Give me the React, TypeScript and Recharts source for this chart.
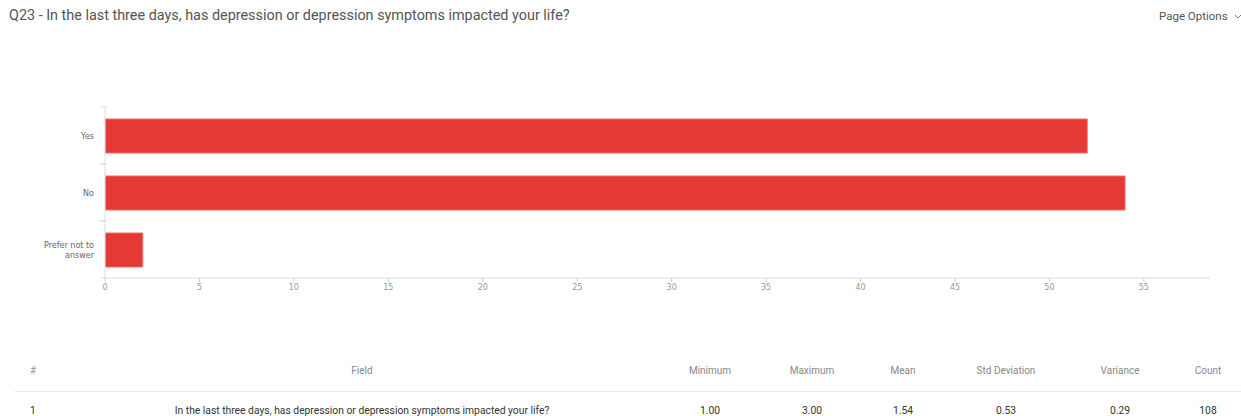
import React from 'react';
import { BarChart, Bar, XAxis, YAxis } from 'recharts';

// Ответы на Q23
const answers = ['Yes', 'No', 'Prefer not to answer'];
const counts = [52, 54, 2];
const xTicks = [0, 5, 10, 15, 20, 25, 30, 35, 40, 45, 50, 55];

// Таблица статистики
const statHeaders = ['Minimum', 'Maximum', 'Mean', 'Std Deviation', 'Variance', 'Count'];
const statValues = ['1.00', '3.00', '1.54', '0.53', '0.29', '108'];
const statCenters = [710, 812, 903, 1006, 1120, 1208];
const fieldText = 'In the last three days, has depression or depression symptoms impacted your life?';

const chartData = answers.map((name, i) => ({ name, count: counts[i] }));

const BAND = 57;

// Подпись категории + засечки на границах полос
const CategoryTick = ({ x, y, payload }: any) => {
  const words = String(payload.value).split(' ');
  const lines = words.length > 2 ? [words.slice(0, 3).join(' '), words.slice(3).join(' ')] : [payload.value];
  const startY = y - ((lines.length - 1) * 10) / 2;
  return (
    <g>
      <line x1={x + 3} x2={x + 10} y1={y - BAND / 2} y2={y - BAND / 2} stroke="#ddd" />
      <line x1={x + 3} x2={x + 10} y1={y + BAND / 2} y2={y + BAND / 2} stroke="#ddd" />
      <text x={x - 3} y={startY} textAnchor="end" fontSize={8} fill="#666" fontFamily="DejaVu Sans" dominantBaseline="middle">
        {lines.map((l, i) => (
          <tspan key={i} x={x - 3} dy={i === 0 ? 0 : 10}>{l}</tspan>
        ))}
      </text>
    </g>
  );
};

export default function App() {
  return (
    <div style={{ position: 'absolute', left: 0, top: 0, width: 1241, height: 416, background: '#fff', overflow: 'hidden', fontFamily: 'Roboto, sans-serif' }}>
      <div style={{ position: 'absolute', left: 9, top: 7, fontSize: 14.4, color: '#555', whiteSpace: 'nowrap' }}>
        Q23 - In the last three days, has depression or depression symptoms impacted your life?
      </div>
      <div style={{ position: 'absolute', left: 1159, top: 9, fontSize: 11.5, color: '#555', whiteSpace: 'nowrap' }}>
        Page Options
        <svg width={8} height={6} style={{ marginLeft: 6, verticalAlign: 'middle' }}>
          <polyline points="1,1 4,4 7,1" fill="none" stroke="#777" strokeWidth={1} />
        </svg>
      </div>

      <div style={{ position: 'absolute', left: 0, top: 0 }}>
        <BarChart
          width={1241}
          height={310}
          data={chartData}
          layout="vertical"
          margin={{ top: 107, right: 31, left: 45, bottom: 2 }}
        >
          <XAxis
            type="number"
            domain={[0, 58.5]}
            ticks={xTicks}
            allowDataOverflow
            axisLine={{ stroke: '#ddd' }}
            tickLine={{ stroke: '#ccc' }}
            tickSize={4}
            tick={{ fontSize: 8, fill: '#999', fontFamily: 'DejaVu Sans' }}
            height={30}
          />
          <YAxis
            type="category"
            dataKey="name"
            width={60}
            axisLine={{ stroke: '#ddd' }}
            tickLine={false}
            tick={<CategoryTick />}
          />
          <Bar dataKey="count" barSize={34} fill="#e53935" stroke="#ef6b67" strokeWidth={1} isAnimationActive={false} />
        </BarChart>
      </div>

      {/* Таблица */}
      <div style={{ position: 'absolute', left: 30, top: 365, fontSize: 10, color: '#999' }}>#</div>
      <div style={{ position: 'absolute', left: 262, width: 200, top: 365, fontSize: 10, color: '#888', textAlign: 'center' }}>Field</div>
      {statHeaders.map((h, i) => (
        <div key={h} style={{ position: 'absolute', left: statCenters[i] - 60, width: 120, top: 365, fontSize: 10, color: '#888', textAlign: 'center' }}>{h}</div>
      ))}
      <div style={{ position: 'absolute', left: 15, right: 0, top: 391, height: 1, background: '#e8e8e8' }} />
      <div style={{ position: 'absolute', left: 30, top: 404, fontSize: 10.3, color: '#333' }}>1</div>
      <div style={{ position: 'absolute', left: 112, width: 500, top: 404, fontSize: 10.3, color: '#333', textAlign: 'center', whiteSpace: 'nowrap' }}>{fieldText}</div>
      {statValues.map((v, i) => (
        <div key={i} style={{ position: 'absolute', left: statCenters[i] - 60, width: 120, top: 404, fontSize: 10.3, color: '#333', textAlign: 'center' }}>{v}</div>
      ))}
    </div>
  );
}
